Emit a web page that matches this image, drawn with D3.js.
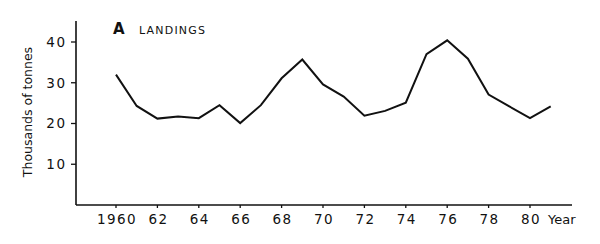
<!DOCTYPE html>
<html><head><meta charset="utf-8">
<script src="https://cdn.jsdelivr.net/npm/d3@7"></script>
<style>
body{margin:0;background:#fff;}
text{font-family:"DejaVu Sans",sans-serif;fill:#111;}
</style></head>
<body><svg id="c" width="600" height="244"></svg>
<script>
const years = [1960,1961,1962,1963,1964,1965,1966,1967,1968,1969,1970,1971,1972,1973,1974,1975,1976,1977,1978,1979,1980,1981];
const landings = [32.0,24.3,21.2,21.7,21.3,24.5,20.1,24.5,31.1,35.7,29.6,26.6,21.9,23.1,25.1,37.0,40.4,35.9,27.1,24.2,21.3,24.2];
const yTicks = [10,20,30,40];
const xTicks = [1960,1962,1964,1966,1968,1970,1972,1974,1976,1978,1980];
const xTickLabels = ["1960","62","64","66","68","70","72","74","76","78","80"];

const svg = d3.select("#c");
const x = d3.scaleLinear().domain([1960,1980]).range([116,530]);
const y = d3.scaleLinear().domain([0,40]).range([205,42]);
const axisLeftX = 76, axisRightX = 572, axisTopY = 21;

// y axis
svg.append("line").attr("x1",axisLeftX).attr("x2",axisLeftX).attr("y1",axisTopY).attr("y2",y(0))
  .attr("stroke","#111").attr("stroke-width",1.6);
svg.selectAll(".yt").data(yTicks).enter().append("line")
  .attr("x1",axisLeftX-5).attr("x2",axisLeftX).attr("y1",d=>y(d)).attr("y2",d=>y(d))
  .attr("stroke","#111").attr("stroke-width",1.3);
svg.selectAll(".yl").data(yTicks).enter().append("text")
  .attr("x",67).attr("y",d=>y(d)).attr("dy","0.36em").attr("text-anchor","end")
  .attr("font-size",13.5).attr("letter-spacing",1.8).text(d=>d);

// x axis
svg.append("line").attr("x1",axisLeftX).attr("x2",axisRightX).attr("y1",y(0)).attr("y2",y(0))
  .attr("stroke","#111").attr("stroke-width",1.6);
svg.selectAll(".xt").data(xTicks).enter().append("line")
  .attr("x1",d=>x(d)).attr("x2",d=>x(d)).attr("y1",y(0)).attr("y2",y(0)+3)
  .attr("stroke","#111").attr("stroke-width",1.3);
svg.selectAll(".xl").data(xTicks).enter().append("text")
  .attr("x",d=>x(d)+1).attr("y",219).attr("dy","0.36em").attr("text-anchor","middle")
  .attr("font-size",13.5).attr("letter-spacing",1.4).text((d,i)=>xTickLabels[i]);
svg.append("text").attr("x",548).attr("y",219).attr("dy","0.36em")
  .attr("font-size",13).text("Year");

// y label
svg.append("text").attr("transform","translate(32,112) rotate(-90)")
  .attr("text-anchor","middle").attr("font-size",12.5).text("Thousands of tonnes");

// title
svg.append("text").attr("x",113).attr("y",33.5).attr("font-size",15).attr("font-weight","bold").text("A");
svg.append("text").attr("x",139).attr("y",33.5).attr("font-size",11).attr("letter-spacing",1.2).text("LANDINGS");

// line
const line = d3.line().x((d,i)=>x(years[i])).y(d=>y(d));
svg.append("path").datum(landings).attr("d",line).attr("fill","none")
  .attr("stroke","#111").attr("stroke-width",2).attr("stroke-linejoin","miter");
</script></body></html>
